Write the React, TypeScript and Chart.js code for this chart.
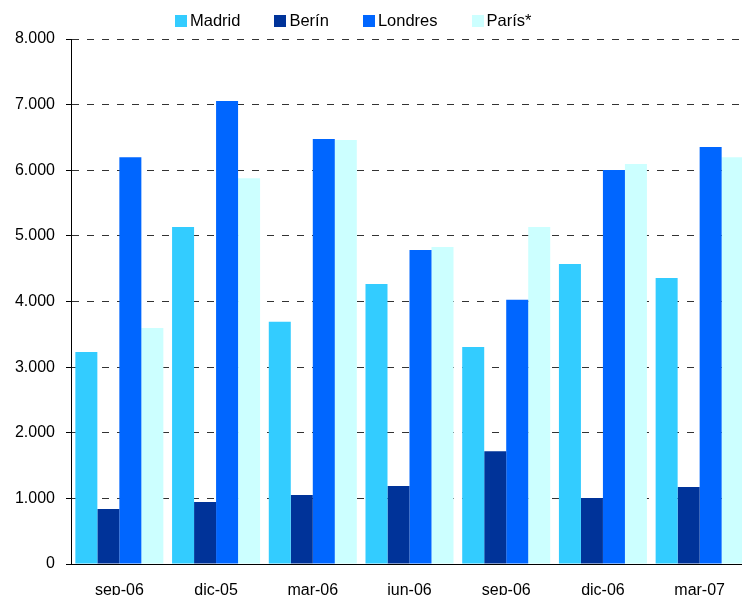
import React, { useEffect, useRef } from "react";
import { Chart, registerables } from "chart.js";

Chart.register(...registerables);

const categories = ["sep-06", "dic-05", "mar-06", "jun-06", "sep-06", "dic-06", "mar-07"];
const madrid = [3230, 5135, 3690, 4265, 3305, 4570, 4360];
const berin = [840, 945, 1050, 1190, 1720, 1005, 1175];
const londres = [6200, 7055, 6475, 4785, 4025, 6005, 6355];
const paris = [3595, 5880, 6460, 4830, 5135, 6095, 6200];
const seriesNames = ["Madrid", "Berín", "Londres", "París*"];
const seriesColors = ["#33CCFF", "#003399", "#0066FF", "#CCFFFF"];
const yTicks = [0, 1000, 2000, 3000, 4000, 5000, 6000, 7000, 8000];

const FONT = "'Liberation Sans', Arial, sans-serif";

function fmt(v: number): string {
  return String(v).replace(/\B(?=(\d{3})+(?!\d))/g, ".");
}

export default function App() {
  const ref = useRef<HTMLCanvasElement | null>(null);

  useEffect(() => {
    if (!ref.current) return;
    const values = [madrid, berin, londres, paris];
    const chart = new Chart(ref.current, {
      type: "bar",
      data: {
        labels: categories,
        datasets: values.map((d, i) => ({
          label: seriesNames[i],
          data: d,
          backgroundColor: seriesColors[i],
          borderWidth: 0,
          categoryPercentage: 0.91,
          barPercentage: 1.0,
        })),
      },
      options: {
        responsive: false,
        animation: false,
        layout: { padding: { top: 39, right: 2, left: 0, bottom: 0 } },
        plugins: {
          legend: { display: false },
          tooltip: { enabled: false },
        },
        scales: {
          x: {
            grid: { display: false, drawTicks: false },
            border: { display: true, color: "#000", width: 1 },
            ticks: {
              color: "#000",
              font: { family: FONT, size: 16 },
              padding: 17,
              maxRotation: 0,
              autoSkip: false,
            },
            afterFit: (s: any) => {
              s.height = 36;
            },
          },
          y: {
            min: 0,
            max: 8000,
            afterBuildTicks: (s: any) => {
              s.ticks = yTicks.map((v) => ({ value: v }));
            },
            grid: {
              color: (ctx: any) => (ctx.tick && ctx.tick.value === 0 ? "rgba(0,0,0,0)" : "#333"),
              tickColor: "#000",
              tickLength: 5,
              lineWidth: 1,
            },
            border: { display: true, color: "#000", width: 1, dash: [7, 8] },
            ticks: {
              color: "#000",
              font: { family: FONT, size: 16 },
              padding: 11,
              callback: (v: any) => fmt(Number(v)),
            },
            afterFit: (s: any) => {
              s.width = 71;
            },
          },
        },
      },
    });
    return () => chart.destroy();
  }, []);

  return (
    <div
      style={{
        position: "absolute",
        left: 0,
        top: 0,
        width: 742,
        height: 595,
        overflow: "hidden",
        background: "#fff",
      }}
    >
      <canvas ref={ref} width={750} height={600} style={{ position: "absolute", left: 0, top: 0 }} />
      <div
        style={{
          position: "absolute",
          left: 175,
          top: 10,
          display: "flex",
          alignItems: "center",
          gap: 34,
          fontFamily: FONT,
          fontSize: 16.5,
          color: "#000",
          lineHeight: "20px",
        }}
      >
        {seriesNames.map((n, i) => (
          <div key={n} style={{ display: "flex", alignItems: "center" }}>
            <span
              style={{
                display: "inline-block",
                width: 12,
                height: 12,
                background: seriesColors[i],
                marginRight: 3,
                marginTop: 2,
              }}
            />
            <span>{n}</span>
          </div>
        ))}
      </div>
    </div>
  );
}
